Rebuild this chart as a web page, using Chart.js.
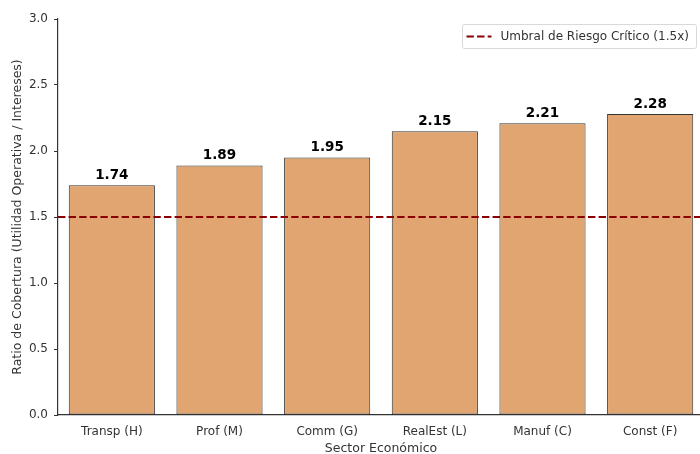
<!DOCTYPE html>
<html><head><meta charset="utf-8">
<script src="https://cdn.jsdelivr.net/npm/chart.js@4.4.0/dist/chart.umd.min.js"></script>
<style>html,body{margin:0;padding:0;overflow:hidden;background:#fff;width:700px;height:454px}#wrap{width:704px;height:454px}</style>
</head><body><div id="wrap"><canvas id="c" width="704" height="454"></canvas></div>
<script>
const categories = ["Transp (H)", "Prof (M)", "Comm (G)", "RealEst (L)", "Manuf (C)", "Const (F)"];
const coverage = [1.74, 1.89, 1.95, 2.15, 2.21, 2.28];
const threshold = 1.5;
const yTicks = [0, 0.5, 1.0, 1.5, 2.0, 2.5, 3.0];
const legendLabel = "Umbral de Riesgo Crítico (1.5x)";

const F = "'DejaVu Sans', sans-serif";

const overlay = {
  id: 'overlay',
  afterDatasetsDraw(chart) {
    const ctx = chart.ctx, a = chart.chartArea, y = chart.scales.y;
    const meta = chart.getDatasetMeta(0);
    const py = y.getPixelForValue(threshold);
    ctx.save();
    ctx.strokeStyle = '#8b0000'; ctx.lineWidth = 2; ctx.setLineDash([7.4, 3.2]);
    ctx.beginPath(); ctx.moveTo(a.left, py); ctx.lineTo(a.right, py); ctx.stroke();
    ctx.setLineDash([]);
    ctx.fillStyle = '#000'; ctx.font = "bold 13.5px " + F; ctx.textAlign = 'center'; ctx.textBaseline = 'bottom';
    meta.data.forEach((b, i) => { ctx.fillText(coverage[i].toFixed(2), b.x, b.y - 3); });
    const lx = 462.5, ly = 24.5, lw = 234, lh = 24;
    ctx.fillStyle = 'rgba(255,255,255,0.8)'; ctx.strokeStyle = '#d9d9d9'; ctx.lineWidth = 1;
    ctx.beginPath(); ctx.roundRect(lx, ly, lw, lh, 2); ctx.fill(); ctx.stroke();
    ctx.strokeStyle = '#8b0000'; ctx.lineWidth = 2; ctx.setLineDash([7.4, 3.2]);
    ctx.beginPath(); ctx.moveTo(lx + 4, ly + lh / 2); ctx.lineTo(lx + 29, ly + lh / 2); ctx.stroke();
    ctx.setLineDash([]);
    ctx.fillStyle = '#333'; ctx.font = "12px " + F; ctx.textAlign = 'left'; ctx.textBaseline = 'middle';
    ctx.fillText(legendLabel, lx + 38, ly + lh / 2 + 0.5);
    ctx.restore();
  }
};

new Chart(document.getElementById('c'), {
  type: 'bar',
  data: {
    labels: categories,
    datasets: [{
      data: coverage,
      backgroundColor: '#e0a571',
      borderColor: '#333333',
      borderWidth: 1,
      borderSkipped: false,
      categoryPercentage: 1.0,
      barPercentage: 0.8
    }]
  },
  options: {
    responsive: false,
    animation: false,
    devicePixelRatio: 1,
    layout: { padding: { top: 19, right: 0, left: 10, bottom: 0 } },
    plugins: { legend: { display: false }, tooltip: { enabled: false } },
    scales: {
      x: {
        grid: { display: false, drawTicks: true, tickLength: 4, tickColor: '#333' },
        border: { display: true, color: '#333', width: 1.2 },
        ticks: { color: '#333', font: { family: F, size: 12 }, padding: 6, maxRotation: 0 },
        title: { display: true, text: 'Sector Económico', color: '#333', font: { family: F, size: 12.5 }, padding: { top: 0, bottom: -2 } },
        afterFit(s) { s.height = 39; }
      },
      y: {
        min: 0, max: 3.0,
        afterBuildTicks(s) { s.ticks = yTicks.map(v => ({ value: v })); },
        grid: { display: true, drawOnChartArea: false, tickLength: 4, tickColor: '#333' },
        border: { display: true, color: '#333', width: 1.2 },
        ticks: { color: '#333', font: { family: F, size: 12 }, padding: 6, callback: v => Number(v).toFixed(1) },
        title: { display: true, text: 'Ratio de Cobertura (Utilidad Operativa / Intereses)', color: '#333', font: { family: F, size: 12.5 }, padding: { top: 0, bottom: 4 } },
        afterFit(s) { s.width = 48; }
      }
    }
  },
  plugins: [overlay]
});
</script></body></html>
